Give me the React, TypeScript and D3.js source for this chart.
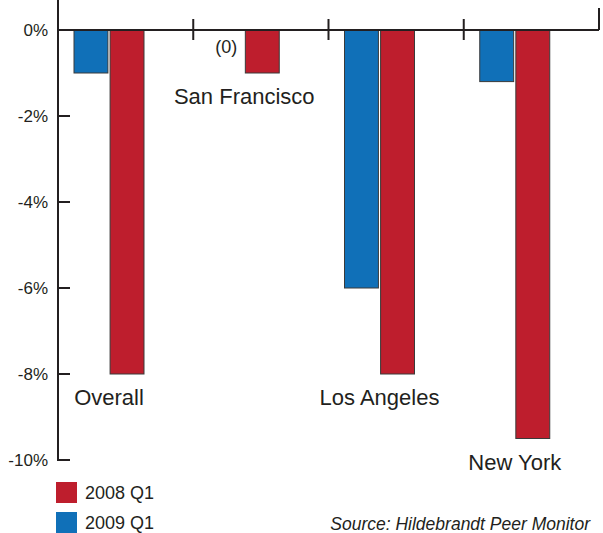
import React, { useEffect, useRef } from 'react';
import * as d3 from 'd3';

const categories = ["Overall", "San Francisco", "Los Angeles", "New York"];
const seriesNames = ["2009 Q1", "2008 Q1"];
const values2009 = [-1, 0, -6, -1.2];
const values2008 = [-8, -1, -8, -9.5];
const yTicks = [0, -2, -4, -6, -8, -10];
const legendOrder = ["2008 Q1", "2009 Q1"];

const colors: Record<string, string> = { "2008 Q1": "#be1e2d", "2009 Q1": "#1070b8" };
const axisColor = "#231f20";
const font = "'Liberation Sans', Arial, sans-serif";

export default function App() {
    const ref = useRef<SVGSVGElement>(null);

    useEffect(() => {
        const svg = d3.select(ref.current);
        svg.selectAll("*").remove();

        const margin = { left: 58, right: 599, top: 30, bottom: 460 };

        const x = d3.scaleBand().domain(categories).range([margin.left, margin.right]).paddingInner(0);
        const inner = d3.scaleBand().domain(seriesNames).range([16, 86]).paddingInner(0.06);
        const y = d3.scaleLinear().domain([0, -10]).range([margin.top, margin.bottom]);

        const rows = categories.map((c, i) => ({ cat: c, "2009 Q1": values2009[i], "2008 Q1": values2008[i] }));

        // bars
        const groups = svg.append("g").selectAll("g").data(rows).enter().append("g")
            .attr("transform", d => `translate(${x(d.cat)},0)`);

        groups.selectAll("rect")
            .data(d => seriesNames.map(s => ({ s, v: (d as any)[s] as number })).filter(e => e.v !== 0))
            .enter().append("rect")
            .attr("x", d => inner(d.s)!)
            .attr("width", inner.bandwidth())
            .attr("y", y(0))
            .attr("height", d => y(d.v) - y(0))
            .attr("fill", d => colors[d.s])
            .attr("stroke", "#3a3a3a")
            .attr("stroke-width", 1);

        // "(0)" marker for zero values
        groups.filter(d => d["2009 Q1"] === 0).append("text")
            .attr("x", inner("2009 Q1")! + inner.bandwidth() / 2)
            .attr("y", y(0) + 23)
            .attr("text-anchor", "middle")
            .style("font-family", font)
            .style("font-size", "18px")
            .attr("fill", axisColor)
            .text("(0)");

        // category labels below the longest bar
        groups.append("text")
            .attr("x", (inner("2009 Q1")! + inner("2008 Q1")! + inner.bandwidth()) / 2)
            .attr("y", d => y(Math.min(d["2009 Q1"], d["2008 Q1"])) + 31)
            .attr("text-anchor", "middle")
            .style("font-family", font)
            .style("font-size", "22px")
            .attr("fill", axisColor)
            .text(d => d.cat);

        // top category axis at 0%
        const top = svg.append("g").attr("stroke", axisColor).attr("stroke-width", 2);
        top.append("line")
            .attr("x1", margin.left).attr("x2", margin.right)
            .attr("y1", y(0)).attr("y2", y(0));
        top.append("line")
            .attr("x1", margin.right).attr("x2", margin.right)
            .attr("y1", y(0)).attr("y2", 8);
        top.selectAll(".sep").data(categories.slice(1)).enter().append("line")
            .attr("x1", d => x(d)!).attr("x2", d => x(d)!)
            .attr("y1", y(0) - 11).attr("y2", y(0) + 10);

        // y axis
        const yAxis = svg.append("g");
        yAxis.append("line")
            .attr("x1", margin.left).attr("x2", margin.left)
            .attr("y1", 0).attr("y2", y(-10))
            .attr("stroke", axisColor).attr("stroke-width", 2);
        yAxis.selectAll(".tick").data(yTicks.filter(t => t !== 0)).enter().append("line")
            .attr("x1", margin.left - 1).attr("x2", margin.left + 12)
            .attr("y1", d => y(d)).attr("y2", d => y(d))
            .attr("stroke", axisColor).attr("stroke-width", 2);
        yAxis.selectAll("text").data(yTicks).enter().append("text")
            .attr("x", 48)
            .attr("y", d => y(d))
            .attr("dy", "0.35em")
            .attr("text-anchor", "end")
            .style("font-family", font)
            .style("font-size", "17px")
            .attr("fill", axisColor)
            .text(d => `${d}%`);

        // legend
        const legend = svg.append("g").selectAll("g").data(legendOrder).enter().append("g")
            .attr("transform", (d, i) => `translate(56,${482 + i * 30})`);
        legend.append("rect")
            .attr("width", 21).attr("height", 21)
            .attr("fill", d => colors[d]);
        legend.append("text")
            .attr("x", 29).attr("y", 11).attr("dy", "0.35em")
            .style("font-family", font)
            .style("font-size", "18px")
            .attr("fill", axisColor)
            .text(d => d);

        svg.append("text")
            .attr("x", 590).attr("y", 530)
            .attr("text-anchor", "end")
            .style("font-family", font)
            .style("font-size", "17.5px")
            .style("font-style", "italic")
            .attr("fill", axisColor)
            .text("Source: Hildebrandt Peer Monitor");
    }, []);

    return (
        <svg ref={ref} width={603} height={533}
            style={{ position: "absolute", left: 0, top: 0, background: "#fff" }} />
    );
}
